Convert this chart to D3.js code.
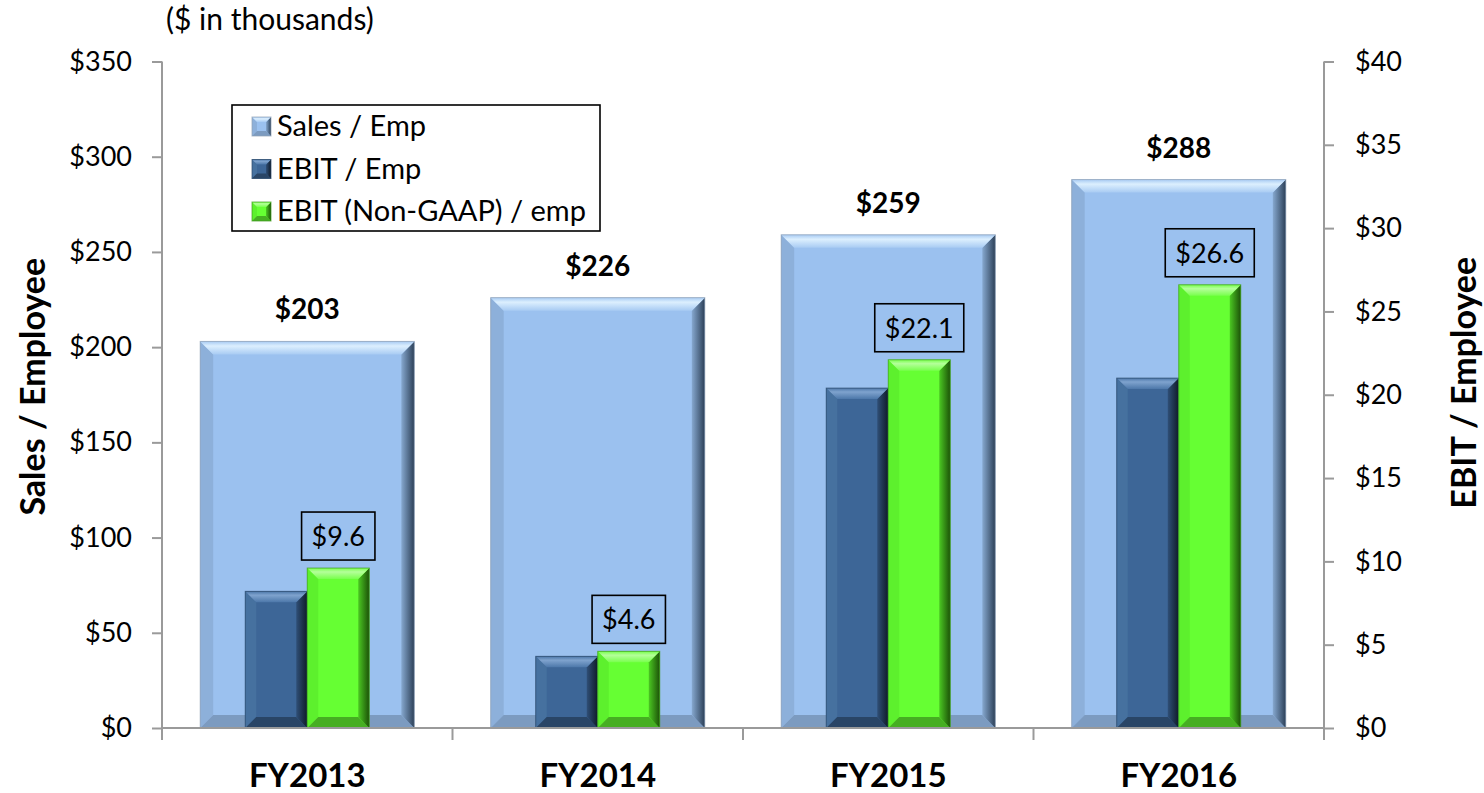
<!DOCTYPE html>
<html>
<head>
<meta charset="utf-8">
<script src="https://cdn.jsdelivr.net/npm/d3@7/dist/d3.min.js"></script>
<style>
  html, body { margin: 0; padding: 0; background: #ffffff; }
  svg { display: block; }
  text { font-family: Lato, "Open Sans", "DejaVu Sans", sans-serif; fill: #000; }
</style>
</head>
<body>
<svg id="chart" width="1484" height="793"></svg>
<script>
// ---- data ($ in thousands) ----
const categories = ["FY2013", "FY2014", "FY2015", "FY2016"];
const salesPerEmp = [203, 226, 259, 288];
const ebitPerEmp = [8.2, 4.3, 20.4, 21.0];
const ebitNonGaapPerEmp = [9.6, 4.6, 22.1, 26.6];

const leftTicks = [0, 50, 100, 150, 200, 250, 300, 350];
const rightTicks = [0, 5, 10, 15, 20, 25, 30, 35, 40];
const seriesNames = ["Sales / Emp", "EBIT / Emp", "EBIT (Non-GAAP) / emp"];

// ---- layout ----
const svg = d3.select("#chart");
const plot = { left: 162, right: 1324, top: 61.5, bottom: 728 };

const x = d3.scaleBand()
  .domain(categories)
  .range([plot.left, plot.right])
  .paddingInner(0.263)
  .paddingOuter(0.1315);

const xInner = d3.scaleBand()
  .domain(["ebit", "nongaap"])
  .range([0, x.bandwidth()])
  .paddingInner(0)
  .paddingOuter(0.726);

const yLeft = d3.scaleLinear().domain([0, 350]).range([plot.bottom, plot.top]);
const yRight = d3.scaleLinear().domain([0, 40]).range([plot.bottom, plot.top]);

// ---- bevel styles ----
const styles = {
  sales: { base: "#9BC1EF", topHi: "#DCEFFE", topLo: "#A8CBF3", left: "#8DB0DA",
           rightA: "#86A8CF", rightB: "#2C4058", bottom: "#7C9BC0", stroke: "#8E9FB3" },
  ebit: { base: "#3D6697", topHi: "#7FA3CE", topLo: "#4C77A9", left: "#46719F",
          rightA: "#2F4F77", rightB: "#101B29", bottom: "#294566", stroke: "#2B4869" },
  nongaap: { base: "#66FF33", topHi: "#B4FF9A", topLo: "#78FF4C", left: "#5DF02D",
             rightA: "#4BC722", rightB: "#1C5208", bottom: "#46AE22", stroke: "#3F9A1E" }
};

const defs = svg.append("defs");
Object.entries(styles).forEach(([key, s]) => {
  const gt = defs.append("linearGradient").attr("id", "top-" + key)
    .attr("x1", 0).attr("y1", 0).attr("x2", 0).attr("y2", 1);
  gt.append("stop").attr("offset", "0%").attr("stop-color", s.topLo);
  gt.append("stop").attr("offset", "35%").attr("stop-color", s.topHi);
  gt.append("stop").attr("offset", "100%").attr("stop-color", s.topLo);
  const gr = defs.append("linearGradient").attr("id", "right-" + key)
    .attr("x1", 0).attr("y1", 0).attr("x2", 1).attr("y2", 0);
  gr.append("stop").attr("offset", "0%").attr("stop-color", s.rightA);
  gr.append("stop").attr("offset", "100%").attr("stop-color", s.rightB);
});

function bevelBar(g, bx, by, w, h, depth, key) {
  const s = styles[key];
  const d = Math.min(depth, h / 2, w / 2);
  g.append("rect").attr("x", bx).attr("y", by).attr("width", w).attr("height", h)
    .attr("fill", s.base);
  const poly = (pts, fill) => g.append("polygon")
    .attr("points", pts.map(p => p.join(",")).join(" "))
    .attr("fill", fill);
  poly([[bx, by], [bx + d, by + d], [bx + d, by + h - d], [bx, by + h]], s.left);
  poly([[bx, by + h], [bx + d, by + h - d], [bx + w - d, by + h - d], [bx + w, by + h]], s.bottom);
  poly([[bx + w, by], [bx + w, by + h], [bx + w - d, by + h - d], [bx + w - d, by + d]], `url(#right-${key})`);
  poly([[bx, by], [bx + w, by], [bx + w - d, by + d], [bx + d, by + d]], `url(#top-${key})`);
  g.append("rect").attr("x", bx).attr("y", by).attr("width", w).attr("height", h)
    .attr("fill", "none").attr("stroke", s.stroke).attr("stroke-width", 1).attr("stroke-opacity", 0.7);
}

// ---- sales bars (left axis) ----
const gSales = svg.append("g");
categories.forEach((c, i) => {
  const top = yLeft(salesPerEmp[i]);
  bevelBar(gSales, x(c), top, x.bandwidth(), plot.bottom - top, 13, "sales");
});

// ---- EBIT bars (right axis) ----
const gEbit = svg.append("g");
categories.forEach((c, i) => {
  const t1 = yRight(ebitPerEmp[i]);
  bevelBar(gEbit, x(c) + xInner("ebit"), t1, xInner.bandwidth(), plot.bottom - t1, 11, "ebit");
  const t2 = yRight(ebitNonGaapPerEmp[i]);
  bevelBar(gEbit, x(c) + xInner("nongaap"), t2, xInner.bandwidth(), plot.bottom - t2, 11, "nongaap");
});

// ---- value labels ----
const gLabels = svg.append("g");
categories.forEach((c, i) => {
  gLabels.append("text")
    .attr("x", x(c) + x.bandwidth() / 2)
    .attr("y", yLeft(salesPerEmp[i]) - 22)
    .attr("text-anchor", "middle")
    .attr("font-size", 28).attr("font-weight", 700)
    .text("$" + salesPerEmp[i]);

  const cx = x(c) + xInner("nongaap") + xInner.bandwidth() / 2;
  const boxBottom = yRight(ebitNonGaapPerEmp[i]) - 8;
  const t = gLabels.append("text")
    .attr("x", cx)
    .attr("y", boxBottom - 14)
    .attr("text-anchor", "middle")
    .attr("font-size", 27)
    .text("$" + ebitNonGaapPerEmp[i].toFixed(1));
  const tw = t.node().getComputedTextLength();
  gLabels.insert("rect", "text")
    .attr("x", cx - tw / 2 - 10).attr("y", boxBottom - 48)
    .attr("width", tw + 20).attr("height", 48)
    .attr("fill", "none").attr("stroke", "#000").attr("stroke-width", 1.6);
});

// ---- axes ----
const axisColor = "#9A9A9A";
const gLeft = svg.append("g").attr("transform", `translate(${plot.left},0)`)
  .call(d3.axisLeft(yLeft).tickValues(leftTicks).tickSize(10).tickPadding(20)
    .tickFormat(d => "$" + d));
const gRight = svg.append("g").attr("transform", `translate(${plot.right},0)`)
  .call(d3.axisRight(yRight).tickValues(rightTicks).tickSize(10).tickPadding(21)
    .tickFormat(d => "$" + d));
[gLeft, gRight].forEach(g => {
  g.attr("font-family", null);
  g.select(".domain").remove();
  g.selectAll(".tick line").attr("stroke", axisColor).attr("stroke-width", 2);
  g.selectAll(".tick text").attr("font-size", 27).attr("fill", "#000");
});

// vertical axis lines reaching below the baseline
[plot.left, plot.right].forEach(ax => {
  svg.append("line").attr("x1", ax).attr("x2", ax)
    .attr("y1", plot.top).attr("y2", plot.bottom + 12)
    .attr("stroke", axisColor).attr("stroke-width", 2);
});

// category axis
svg.append("line").attr("x1", plot.left).attr("x2", plot.right)
  .attr("y1", plot.bottom).attr("y2", plot.bottom)
  .attr("stroke", axisColor).attr("stroke-width", 2);
const step = x.step();
d3.range(1, categories.length).forEach(k => {
  const bx = plot.left + k * step;
  svg.append("line").attr("x1", bx).attr("x2", bx)
    .attr("y1", plot.bottom).attr("y2", plot.bottom + 12)
    .attr("stroke", axisColor).attr("stroke-width", 2);
});
svg.append("g").selectAll("text").data(categories).join("text")
  .attr("x", d => x(d) + x.bandwidth() / 2)
  .attr("y", 787)
  .attr("text-anchor", "middle")
  .attr("font-size", 33).attr("font-weight", 700)
  .text(d => d);

// axis titles
svg.append("text")
  .attr("transform", `translate(45,${(plot.top + plot.bottom) / 2 - 8}) rotate(-90)`)
  .attr("text-anchor", "middle")
  .attr("font-size", 34).attr("font-weight", 700)
  .text("Sales / Employee");
svg.append("text")
  .attr("transform", `translate(1476,${(plot.top + plot.bottom) / 2 - 12}) rotate(-90)`)
  .attr("text-anchor", "middle")
  .attr("font-size", 34).attr("font-weight", 700)
  .text("EBIT / Employee");

// unit note
svg.append("text").attr("x", 166).attr("y", 30)
  .attr("font-size", 30)
  .text("($ in thousands)");

// ---- legend ----
const gLegend = svg.append("g");
gLegend.append("rect").attr("x", 232).attr("y", 105).attr("width", 368).attr("height", 126)
  .attr("fill", "#fff").attr("stroke", "#000").attr("stroke-width", 1.6);
const legendKeys = ["sales", "ebit", "nongaap"];
seriesNames.forEach((name, i) => {
  const ry = 117 + i * 42.5;
  bevelBar(gLegend, 252, ry, 19, 19, 5, legendKeys[i]);
  gLegend.append("text").attr("x", 277).attr("y", ry + 19)
    .attr("font-size", 29)
    .text(name);
});
</script>
</body>
</html>
